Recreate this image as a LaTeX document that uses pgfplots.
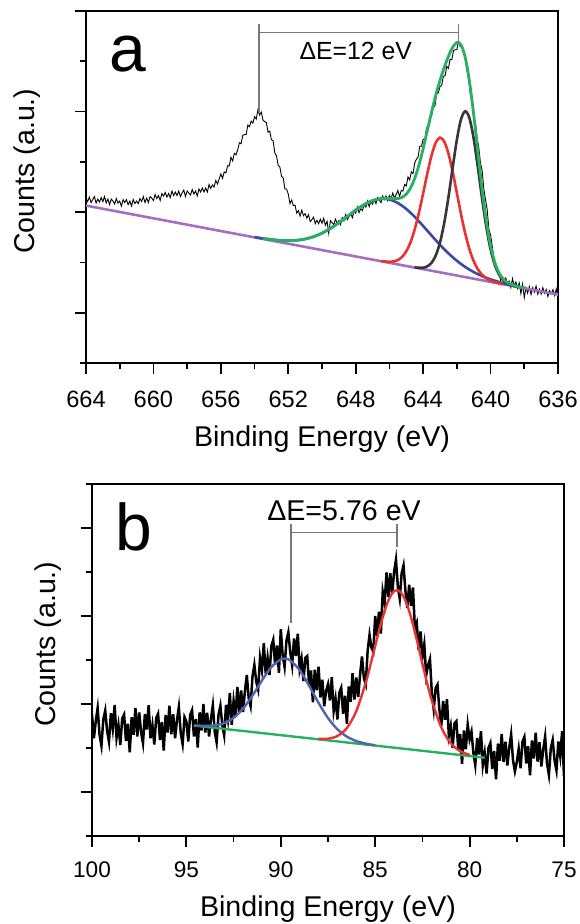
\documentclass[border=0pt]{standalone}
\usepackage{fontspec}
\setmainfont{Liberation Sans}
\usepackage{pgfplots}
\pgfplotsset{compat=1.18}
\definecolor{fitgreen}{RGB}{40,175,95}
\definecolor{fitred}{RGB}{235,50,50}
\definecolor{fitblue}{RGB}{55,75,165}
\definecolor{fitpurple}{RGB}{165,110,195}
\definecolor{fitgray}{RGB}{55,55,55}
\definecolor{bblue}{RGB}{80,100,175}
\definecolor{brk}{RGB}{120,120,120}
\pgfplotsset{
  xpsstyle/.style={
    scale only axis, width=236pt, height=176pt,
    x dir=reverse,
    tick align=outside, tick pos=left,
    major tick length=5.5pt, minor tick length=2.8pt,
    axis line style={line width=1pt},
    every tick/.append style={line width=0.9pt, black},
    every minor tick/.append style={line width=0.9pt, black},
    /pgf/number format/assume math mode=true,
    yticklabels={},
    label style={font=\fontsize{14.3}{15}\selectfont},
    xlabel={Binding Energy (eV)}, ylabel={Counts (a.u.)},
  }
}
\begin{document}
\begin{tikzpicture}
\path[use as bounding box] (0,0) rectangle (289.5pt,462pt);
% ---------------- panel a
\begin{axis}[xpsstyle,
  at={(43pt,280.5pt)}, anchor=south west,
  xmin=636, xmax=664, ymin=0, ymax=7,
  xtick={636,640,...,664}, minor xtick={638,642,...,662},
  ytick={1,3,5,7}, minor ytick={0,2,4,6},
  xticklabel style={font=\fontsize{11.8}{12}\selectfont, yshift=-5pt},
  xlabel style={at={(axis description cs:0.5,-0.238)}, anchor=base},
  ylabel style={at={(axis description cs:-0.125,0.545)}, anchor=center},
]
\addplot[black, line width=0.45pt] coordinates {
(664.0,3.28)(663.9,3.21)(663.8,3.30)(663.7,3.19)(663.6,3.25)(663.5,3.31)(663.4,3.18)(663.3,3.26)(663.2,3.20)(663.1,3.29)
(663.0,3.21)(662.9,3.31)(662.8,3.18)(662.7,3.26)(662.6,3.15)(662.5,3.26)(662.4,3.22)(662.3,3.16)(662.2,3.27)(662.1,3.18)
(662.0,3.22)(661.9,3.12)(661.8,3.25)(661.7,3.19)(661.6,3.25)(661.5,3.15)(661.4,3.22)(661.3,3.12)(661.2,3.25)(661.1,3.17)
(661.0,3.22)(660.9,3.17)(660.8,3.27)(660.7,3.21)(660.6,3.31)(660.5,3.19)(660.4,3.28)(660.3,3.19)(660.2,3.31)(660.1,3.28)
(660.0,3.23)(659.9,3.35)(659.8,3.27)(659.7,3.33)(659.6,3.23)(659.5,3.37)(659.4,3.32)(659.3,3.39)(659.2,3.30)(659.1,3.37)
(659.0,3.29)(658.9,3.42)(658.8,3.33)(658.7,3.40)(658.6,3.33)(658.5,3.42)(658.4,3.31)(658.3,3.38)(658.2,3.44)(658.1,3.31)
(658.0,3.42)(657.9,3.38)(657.8,3.34)(657.7,3.45)(657.6,3.36)(657.5,3.42)(657.4,3.32)(657.3,3.46)(657.2,3.40)(657.1,3.48)
(657.0,3.40)(656.9,3.48)(656.8,3.40)(656.7,3.55)(656.6,3.47)(656.5,3.54)(656.4,3.50)(656.3,3.63)(656.2,3.56)(656.1,3.66)
(656.0,3.76)(655.9,3.67)(655.8,3.80)(655.7,3.78)(655.6,3.92)(655.5,3.92)(655.4,4.09)(655.3,4.02)(655.2,4.17)(655.1,4.14)
(655.0,4.24)(654.9,4.38)(654.8,4.36)(654.7,4.53)(654.6,4.54)(654.5,4.54)(654.4,4.73)(654.3,4.70)(654.2,4.81)(654.1,4.77)
(654.0,4.90)(653.9,4.85)(653.8,5.04)(653.7,4.93)(653.6,4.99)(653.5,4.83)(653.4,4.80)(653.3,4.78)(653.2,4.59)(653.1,4.61)
(653.0,4.44)(652.9,4.42)(652.8,4.18)(652.7,4.12)(652.6,3.93)(652.5,3.90)(652.4,3.71)(652.3,3.68)(652.2,3.46)(652.1,3.46)
(652.0,3.36)(651.9,3.17)(651.8,3.24)(651.7,3.13)(651.6,3.14)(651.5,2.98)(651.4,3.03)(651.3,2.92)(651.2,3.04)(651.1,2.93)
(651.0,2.97)(650.9,2.88)(650.8,2.95)(650.7,2.81)(650.6,2.85)(650.5,2.90)(650.4,2.77)(650.3,2.84)(650.2,2.77)(650.1,2.86)
(650.0,2.78)(649.9,2.88)(649.8,2.74)(649.7,2.82)(649.6,2.58)(649.5,2.83)(649.4,2.79)(649.3,2.75)(649.2,2.86)(649.1,2.78)
(649.0,2.83)(648.9,2.75)(648.8,2.89)(648.7,2.83)(648.6,2.95)(648.5,2.85)(648.4,2.91)(648.3,2.98)(648.2,2.89)(648.1,3.01)
(648.0,2.98)(647.9,3.10)(647.8,2.99)(647.7,3.07)(647.6,3.03)(647.5,3.15)(647.4,3.10)(647.3,3.22)(647.2,3.11)(647.1,3.21)
(647.0,3.16)(646.9,3.25)(646.8,3.17)(646.7,3.29)(646.6,3.24)(646.5,3.19)(646.4,3.32)(646.3,3.25)(646.2,3.32)(646.1,3.23)
(646.0,3.33)(645.9,3.27)(645.8,3.38)(645.7,3.28)(645.6,3.35)(645.5,3.43)(645.4,3.31)(645.3,3.43)(645.2,3.42)(645.1,3.55)
(645.0,3.52)(644.9,3.70)(644.8,3.64)(644.7,3.80)(644.6,3.77)(644.5,3.98)(644.4,4.05)(644.3,4.10)(644.2,4.31)(644.1,4.31)
(644.0,4.45)(643.9,4.44)(643.8,4.67)(643.7,4.72)(643.6,4.90)(643.5,4.91)(643.4,5.09)(643.3,5.11)(643.2,5.35)(643.1,5.37)
(643.0,5.50)(642.9,5.52)(642.8,5.70)(642.7,5.71)(642.6,5.90)(642.5,5.86)(642.4,6.04)(642.3,6.03)(642.2,6.21)(642.1,6.23)
(642.0,6.23)(641.9,6.40)(641.8,6.29)(641.7,6.30)(641.6,6.15)(641.5,6.09)(641.4,5.81)(641.3,5.66)(641.2,5.34)(641.1,5.19)
(641.0,4.88)(640.9,4.79)(640.8,4.47)(640.7,4.29)(640.6,3.98)(640.5,3.83)(640.4,3.46)(640.3,3.25)(640.2,3.05)(640.1,2.65)
(640.0,2.55)(639.9,2.32)(639.8,2.07)(639.7,1.98)(639.6,1.82)(639.5,1.81)(639.4,1.64)(639.3,1.70)(639.2,1.63)(639.1,1.69)
(639.0,1.58)(638.9,1.63)(638.8,1.50)(638.7,1.68)(638.6,1.53)(638.5,1.61)(638.4,1.48)(638.3,1.59)(638.2,1.38)(638.1,1.57)
(638.0,1.30)(637.9,1.50)(637.8,1.39)(637.7,1.52)(637.6,1.36)(637.5,1.50)(637.4,1.41)(637.3,1.53)(637.2,1.37)(637.1,1.47)
(637.0,1.37)(636.9,1.50)(636.8,1.39)(636.7,1.46)(636.6,1.32)(636.5,1.44)(636.4,1.38)(636.3,1.46)(636.2,1.34)(636.1,1.47)(636.0,1.30)
};
% background
\addplot[fitpurple, line width=1.3pt] coordinates {(664,3.13)(636,1.36)};
% blue component
\addplot[fitblue, line width=1.3pt, smooth] coordinates {
(654.0,2.504)(653.5,2.477)(653.0,2.455)(652.5,2.439)(652.0,2.433)(651.5,2.440)(651.0,2.465)(650.5,2.512)
(650.0,2.582)(649.5,2.676)(649.0,2.789)(648.5,2.914)(648.0,3.040)(647.5,3.150)(647.0,3.230)(646.5,3.267)
(646.0,3.251)(645.5,3.182)(645.0,3.063)(644.5,2.907)(644.0,2.725)(643.5,2.535)(643.0,2.350)(642.5,2.180)
(642.0,2.033)(641.5,1.909)(641.0,1.808)(640.5,1.728)(640.0,1.663)(639.5,1.611)(639.0,1.566)(638.5,1.526)(638.0,1.491)
};
% red component
\addplot[fitred, line width=1.3pt, smooth] coordinates {
(646.5,2.027)(646.0,2.012)(645.75,2.020)(645.5,2.048)(645.25,2.110)(645.0,2.222)(644.75,2.401)(644.5,2.658)
(644.25,2.989)(644.0,3.374)(643.75,3.773)(643.5,4.129)(643.25,4.382)(643.0,4.481)(642.75,4.405)(642.5,4.166)
(642.25,3.805)(642.0,3.382)(641.75,2.955)(641.5,2.572)(641.25,2.259)(641.0,2.024)(640.75,1.861)(640.5,1.753)
(640.25,1.683)(640.0,1.638)(639.75,1.608)(639.5,1.587)(639.25,1.568)
};
% dark component
\addplot[fitgray, line width=1.3pt, smooth] coordinates {
(644.5,1.902)(644.25,1.893)(644.0,1.895)(643.75,1.922)(643.5,1.993)(643.25,2.140)(643.0,2.395)(642.75,2.782)
(642.5,3.293)(642.25,3.879)(642.0,4.439)(641.75,4.850)(641.5,5.007)(641.25,4.865)(641.0,4.457)(640.75,3.881)
(640.5,3.261)(640.25,2.700)(640.0,2.261)(639.75,1.953)(639.5,1.761)(639.25,1.648)(639.0,1.584)(638.75,1.547)(638.5,1.522)
};
% envelope
\addplot[fitgreen, line width=1.4pt, smooth] coordinates {
(653.5,2.477)(653.0,2.455)(652.5,2.439)(652.0,2.433)(651.5,2.440)(651.0,2.465)(650.5,2.512)(650.0,2.582)
(649.5,2.676)(649.0,2.789)(648.5,2.914)(648.0,3.040)(647.5,3.150)(647.0,3.230)(646.5,3.270)(646.0,3.271)
(645.75,3.268)(645.5,3.270)(645.25,3.294)(645.0,3.358)(644.75,3.479)(644.5,3.671)(644.25,3.936)(644.0,4.262)
(643.75,4.625)(643.5,4.989)(643.25,5.326)(643.0,5.620)(642.75,5.876)(642.5,6.097)(642.25,6.277)(642.0,6.374)
(641.75,6.325)(641.5,6.072)(641.25,5.596)(641.0,4.937)(640.75,4.186)(640.5,3.452)(640.25,2.819)(640.0,2.336)
(639.75,2.002)(639.5,1.795)(639.25,1.671)(639.0,1.600)(638.75,1.559)(638.5,1.530)(638.25,1.510)(638.0,1.491)
};
\draw[brk, line width=0.6pt] (653.74,4.99) -- (653.74,6.74);
\draw[brk, line width=0.6pt] (653.74,6.58) -- (641.88,6.58);
\draw[brk, line width=0.6pt] (641.88,6.36) -- (641.88,6.74);
\node[anchor=base, font=\fontsize{12.4}{13}\selectfont] at (648.0,6.03) {ΔE=12 eV};
\node[anchor=base west, inner sep=0pt, font=\fontsize{33}{33}\selectfont] at (axis description cs:0.05,0.8295) {a};
\end{axis}
% ---------------- panel b
\begin{axis}[xpsstyle,
  at={(46pt,44pt)}, anchor=south west,
  xmin=75, xmax=100, ymin=0, ymax=8,
  xtick={75,80,...,100}, minor xtick={77.5,82.5,...,97.5},
  ytick={1,3,5,7}, minor ytick={0,2,4,6,8},
  xticklabel style={font=\fontsize{11.3}{12}\selectfont, yshift=-4pt},
  xlabel style={at={(axis description cs:0.5,-0.229)}, anchor=base},
  ylabel style={at={(axis description cs:-0.094,0.545)}, anchor=center},
]
\addplot[black, line width=1.25pt] coordinates {
(100.0,2.77)(99.9,2.22)(99.8,2.61)(99.7,2.91)(99.6,2.30)(99.5,2.05)(99.4,2.65)(99.3,2.85)(99.2,2.39)(99.1,2.14)
(99.0,2.79)(98.9,2.44)(98.8,2.98)(98.7,2.23)(98.6,2.52)(98.5,2.07)(98.4,2.67)(98.3,2.76)(98.2,2.16)(98.1,2.55)
(98.0,1.90)(97.9,2.70)(97.8,2.30)(97.7,2.91)(97.6,2.26)(97.5,2.81)(97.4,2.36)(97.3,2.11)(97.2,2.77)(97.1,2.42)
(97.0,2.97)(96.9,2.22)(96.8,2.52)(96.7,2.08)(96.6,2.68)(96.5,2.78)(96.4,2.18)(96.3,2.59)(96.2,1.94)(96.1,2.75)
(96.0,2.35)(95.9,2.96)(95.8,2.31)(95.7,2.77)(95.6,2.22)(95.5,2.63)(95.4,2.93)(95.3,2.34)(95.2,2.09)(95.1,2.70)
(95.0,2.60)(94.9,2.15)(94.8,2.75)(94.7,2.86)(94.6,2.26)(94.5,2.66)(94.4,2.01)(94.3,2.81)(94.2,2.40)(94.1,3.00)
(94.0,2.35)(93.9,2.80)(93.8,2.26)(93.7,2.66)(93.6,2.97)(93.5,2.37)(93.4,2.13)(93.3,2.75)(93.2,2.96)(93.1,2.53)
(93.0,2.29)(92.9,2.98)(92.8,2.66)(92.7,3.25)(92.6,2.53)(92.5,3.07)(92.4,2.73)(92.3,3.39)(92.2,2.80)(92.1,3.31)
(92.0,2.82)(91.9,3.29)(91.8,3.66)(91.7,3.13)(91.6,2.95)(91.5,3.62)(91.4,3.89)(91.3,3.51)(91.2,3.33)(91.1,4.05)
(91.0,3.77)(90.9,4.38)(90.8,3.69)(90.7,4.05)(90.6,3.66)(90.5,4.32)(90.4,4.46)(90.3,3.89)(90.2,4.33)(90.1,3.71)
(90.0,4.70)(89.9,4.10)(89.8,3.84)(89.7,4.44)(89.6,4.63)(89.5,4.18)(89.4,3.88)(89.3,4.49)(89.2,4.09)(89.1,4.60)
(89.0,3.80)(88.9,4.03)(88.8,3.52)(88.7,4.05)(88.6,4.09)(88.5,3.42)(88.4,3.76)(88.3,3.04)(88.2,3.78)(88.1,3.31)
(88.0,3.85)(87.9,3.15)(87.8,3.55)(87.7,2.95)(87.6,3.30)(87.5,3.45)(87.4,3.08)(87.3,3.61)(87.2,2.84)(87.1,3.12)
(87.0,2.65)(86.9,3.26)(86.8,3.37)(86.7,2.78)(86.6,3.19)(86.5,2.55)(86.4,3.40)(86.3,3.05)(86.2,3.70)(86.1,3.10)
(86.0,3.60)(85.9,3.16)(85.8,3.67)(85.7,4.08)(85.6,3.59)(85.5,3.45)(85.4,4.21)(85.3,4.57)(85.2,4.28)(85.1,4.19)
(85.0,5.00)(84.9,4.55)(84.8,5.10)(84.7,4.60)(84.6,5.55)(84.5,5.30)(84.4,5.99)(84.3,5.43)(84.2,5.97)(84.1,5.51)
(84.0,6.00)(83.9,6.28)(83.8,5.66)(83.7,5.39)(83.6,5.97)(83.5,6.15)(83.4,5.57)(83.3,5.19)(83.2,5.71)(83.1,5.23)
(83.0,5.65)(82.9,4.73)(82.8,4.85)(82.7,4.23)(82.6,4.65)(82.5,4.08)(82.4,4.36)(82.3,3.65)(82.2,3.88)(82.1,4.02)
(82.0,3.25)(81.9,2.88)(81.8,3.36)(81.7,3.44)(81.6,2.87)(81.5,2.50)(81.4,3.07)(81.3,2.64)(81.2,3.11)(81.1,2.28)
(81.0,2.50)(80.9,2.00)(80.8,2.56)(80.7,2.61)(80.6,1.97)(80.5,2.32)(80.4,1.64)(80.3,2.40)(80.2,1.97)(80.1,2.53)
(80.0,2.20)(79.9,2.37)(79.8,1.89)(79.7,1.61)(79.6,2.23)(79.5,1.85)(79.4,2.38)(79.3,1.61)(79.2,1.89)(79.1,1.42)
(79.0,2.00)(78.9,2.11)(78.8,1.52)(78.7,1.93)(78.6,1.29)(78.5,2.10)(78.4,1.71)(78.3,2.32)(78.2,1.68)(78.1,2.14)
(78.0,1.60)(77.9,2.01)(77.8,2.31)(77.7,1.72)(77.6,1.47)(77.5,1.68)(77.4,1.98)(77.3,1.54)(77.2,2.14)(77.1,2.25)
(77.0,1.65)(76.9,2.04)(76.8,1.38)(76.7,2.17)(76.6,1.76)(76.5,2.35)(76.4,1.69)(76.3,2.13)(76.2,1.58)(76.1,1.97)
(76.0,2.26)(75.9,1.65)(75.8,1.39)(75.7,1.99)(75.6,2.18)(75.5,1.72)(75.4,1.49)(75.3,2.15)(75.2,1.82)(75.1,2.38)(75.0,1.35)
};
\addplot[fitgreen, line width=1.2pt] coordinates {(94.6,2.51)(79.2,1.78)};
\addplot[bblue, line width=1.2pt, smooth] coordinates {
(94.5,2.512)(94.0,2.503)(93.5,2.514)(93.0,2.566)(92.5,2.685)(92.0,2.895)(91.5,3.191)(91.0,3.533)
(90.5,3.841)(90.0,4.015)(89.75,4.030)(89.5,3.991)(89.0,3.769)(88.5,3.415)(88.0,3.025)(87.5,2.681)
(87.0,2.425)(86.5,2.258)(86.0,2.158)(85.5,2.099)(85.0,2.062)
};
\addplot[fitred, line width=1.2pt, smooth] coordinates {
(88.0,2.207)(87.5,2.212)(87.0,2.273)(86.5,2.453)(86.0,2.840)(85.5,3.485)(85.25,3.891)(85.0,4.322)
(84.75,4.745)(84.5,5.118)(84.25,5.403)(84.0,5.562)(83.75,5.578)(83.5,5.445)(83.25,5.179)(83.0,4.808)
(82.75,4.375)(82.5,3.918)(82.25,3.476)(82.0,3.078)(81.5,2.469)(81.0,2.109)(80.5,1.928)(80.0,1.844)
};
\draw[brk, line width=0.6pt] (89.46,4.84) -- (89.46,7.09);
\draw[brk, line width=0.6pt] (89.46,6.89) -- (83.85,6.89);
\draw[brk, line width=0.6pt] (83.85,6.57) -- (83.85,7.09);
\node[anchor=base, font=\fontsize{14.3}{15}\selectfont] at (86.65,7.18) {ΔE=5.76 eV};
\node[anchor=base west, inner sep=0pt, font=\fontsize{33}{33}\selectfont] at (axis description cs:0.05,0.8125) {b};
\end{axis}
\end{tikzpicture}
\end{document}
